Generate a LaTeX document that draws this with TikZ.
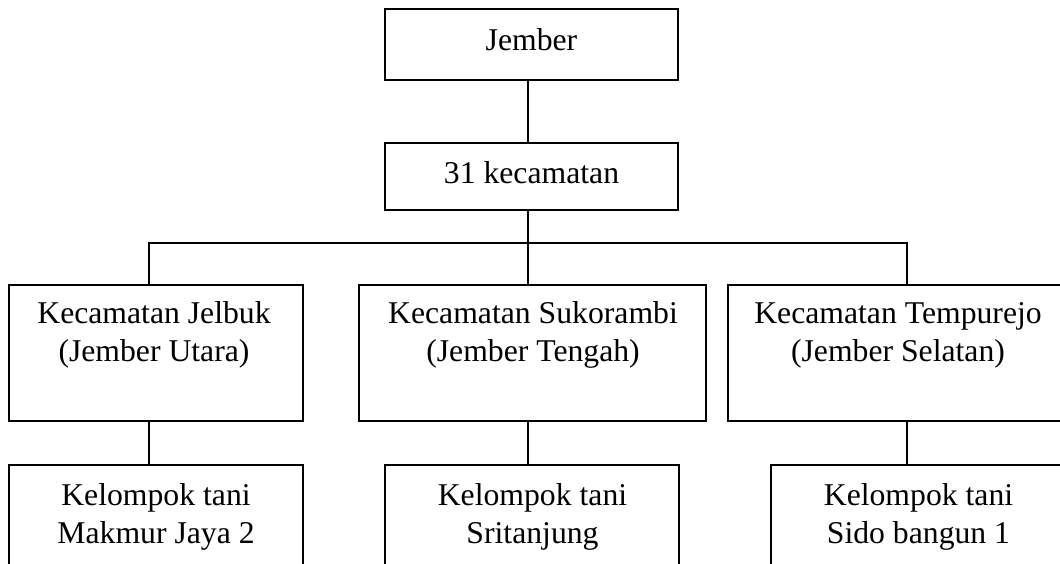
\documentclass[tikz,border=0pt]{standalone}
\usepackage{fontspec}
\setmainfont{Liberation Serif}
\begin{document}
\begin{tikzpicture}[x=1pt,y=-1pt,
  box/.style={draw,line width=1.8pt,inner sep=0pt},
  lbl/.style={font=\fontsize{31.7}{38}\selectfont,align=center,inner sep=0pt,anchor=north},
  conn/.style={line width=1.3pt}]
\useasboundingbox (0,0) rectangle (1060,563);
\fill[white] (0,0) rectangle (1060,563);
\clip (0,0) rectangle (1060,563);
% boxes
\node[box,minimum width=293pt,minimum height=71pt] (jem) at (531.5,44.5) {};
\node[box,minimum width=293pt,minimum height=67pt] (kec) at (531.5,176.5) {};
\node[box,minimum width=294pt,minimum height=136pt] (k1) at (156,353) {};
\node[box,minimum width=347pt,minimum height=136pt] (k2) at (532.5,353) {};
\node[box,minimum width=358pt,minimum height=136pt] (k3) at (907,353) {};
\node[box,minimum width=294pt,minimum height=135pt] (t1) at (156,532.5) {};
\node[box,minimum width=294pt,minimum height=135pt] (t2) at (532,532.5) {};
\node[box,minimum width=294pt,minimum height=135pt] (t3) at (918,532.5) {};
% texts
\node[lbl] (jemT) at (531.5,23.4) {\strut Jember};
\node[lbl] (kecT) at (531.5,156.4) {\strut 31 kecamatan};
\node[lbl] (k1T) at (154,296.4) {\strut Kecamatan Jelbuk\\\strut (Jember Utara)};
\node[lbl] (k2T) at (533,296.4) {\strut Kecamatan Sukorambi\\\strut (Jember Tengah)};
\node[lbl] (k3T) at (898,296.4) {\strut Kecamatan Tempurejo\\\strut (Jember Selatan)};
\node[lbl] (t1T) at (156,478.4) {\strut Kelompok tani\\\strut Makmur Jaya 2};
\node[lbl] (t2T) at (532.5,478.4) {\strut Kelompok tani\\\strut Sritanjung};
\node[lbl] (t3T) at (918.5,478.4) {\strut Kelompok tani\\\strut Sido bangun 1};
% connectors
\coordinate (bL) at (149,243);
\coordinate (bM) at (528,243);
\coordinate (bR) at (907,243);
\draw[conn] (jem.south -| bM) -- (kec.north -| bM);
\draw[conn] (kec.south -| bM) -- (bM);
\draw[conn] (bL |- k1.north) -- (bL) -- (bR) -- (bR |- k3.north);
\draw[conn] (bM) -- (bM |- k2.north);
\draw[conn] (k1.south -| bL) -- (t1.north -| bL);
\draw[conn] (k2.south -| bM) -- (t2.north -| bM);
\draw[conn] (k3.south -| bR) -- (t3.north -| bR);
\end{tikzpicture}
\end{document}
